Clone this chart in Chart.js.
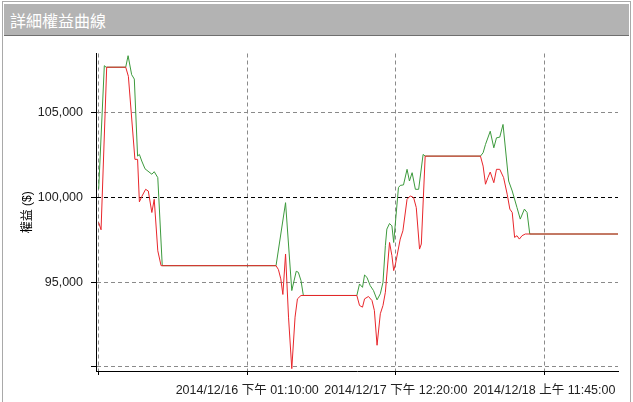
<!DOCTYPE html>
<html>
<head>
<meta charset="utf-8">
<script src="https://cdn.jsdelivr.net/npm/chart.js@4/dist/chart.umd.min.js"></script>
<style>
  html, body { margin: 0; padding: 0; background: #fff; }
  body { width: 633px; height: 402px; position: relative; overflow: hidden; }
  #frame { position: absolute; left: 2px; top: 1px; width: 627px; height: 405px;
           border: 1px solid #a9a9a9; border-bottom: none; }
  #titlebar { position: absolute; left: 4px; top: 4px; width: 625px; height: 32px;
              background: #b3b3b3; border-bottom: 1px solid #6f6f6f; color: #fff;
              font: 16px 'Noto Sans CJK TC', sans-serif; line-height: 32px;
              padding-left: 6px; box-sizing: border-box; }
  #c { position: absolute; left: 0; top: 38px; }
</style>
</head>
<body>
<div id="frame"></div>
<div id="titlebar">詳細權益曲線</div>
<canvas id="c" width="633" height="364"></canvas>
<script>
// ---- data ----
const chartTitle = '詳細權益曲線';
const yAxisTitle = '權益 ($)';
const xTickPositions = [0, 50, 100, 150];
const xTickLabels = ['', '2014/12/16 下午 01:10:00', '2014/12/17 下午 12:20:00', '2014/12/18 上午 11:45:00'];
const yTickValues = [90000, 95000, 100000, 105000];

const greenX = [0, 1.9, 2.5, 9.1, 9.9, 11.1, 12.0, 13.1, 13.7, 14.5,
  15.6, 17.9, 18.7, 19.9, 21.4, 59.7, 62.9, 65.0, 66.5, 67.2,
  68.1, 68.9, 86.9, 87.8, 88.8, 89.5, 90.3, 91.4, 92.5, 93.7,
  94.8, 95.7, 96.5, 97.0, 97.9, 98.7, 99.3, 100.9, 101.5, 102.6,
  103.8, 104.6, 105.5, 106.6, 107.7, 109.2, 109.9, 128.5, 129.4, 130.2,
  131.8, 133.0, 133.9, 135.0, 136.1, 138.0, 139.2, 140.8, 141.9, 143.3,
  144.2, 145.1, 174.8];
const greenY = [100500, 107780, 107690, 107690, 108370, 107250, 106990, 102440, 102540, 102150,
  101690, 101370, 101520, 101170, 95970, 95970, 99690, 94500, 95640, 95580,
  95090, 94210, 94210, 94890, 94690, 95420, 95280, 94790, 94500, 93950,
  94310, 94990, 97150, 98130, 98460, 98320, 97340, 100580, 100710, 100740,
  101660, 100970, 101460, 100480, 100480, 102540, 102440, 102440, 102640, 103130,
  103910, 102930, 103520, 103560, 104310, 100970, 100380, 99400, 98720, 99310,
  99110, 97840, 97840];

const redX = [0, 0.8, 2.7, 9.1, 10.0, 12.2, 13.1, 13.7, 14.5, 15.8,
  16.7, 17.9, 18.7, 19.9, 21.0, 59.7, 60.5, 61.3, 62.0, 62.9,
  63.9, 65.0, 66.1, 66.9, 68.1, 86.9, 87.8, 88.8, 89.5, 90.8,
  92.0, 92.8, 93.7, 94.8, 95.7, 96.5, 97.9, 98.7, 99.3, 99.9,
  101.5, 102.4, 103.8, 104.9, 106.0, 106.9, 108.0, 108.6, 109.9, 128.5,
  129.4, 130.2, 131.0, 131.8, 133.0, 133.9, 135.0, 136.3, 137.5, 138.4,
  139.2, 140.0, 140.8, 141.6, 142.5, 143.6, 174.8];
const redY = [98520, 98090, 107690, 107690, 107150, 102250, 102250, 99740, 100050, 100480,
  100380, 99110, 99890, 96850, 95970, 95970, 95740, 95190, 94270, 96660,
  92930, 89890, 92930, 94010, 94210, 94210, 93620, 93520, 94010, 94150,
  93910, 93320, 91270, 93130, 93620, 94400, 97340, 96560, 95680, 96070,
  97540, 98030, 99890, 100090, 99990, 99400, 96950, 97250, 102440, 102440,
  101850, 100780, 101170, 101500, 100870, 101660, 101660, 101170, 100190, 99310,
  99110, 97640, 97740, 97540, 97740, 97840, 97840];

const toPts = (xs, ys) => xs.map((x, i) => ({ x: x, y: ys[i] }));
const FONT = "'Liberation Sans', 'Noto Sans CJK TC', sans-serif";

new Chart(document.getElementById('c'), {
  type: 'line',
  data: {
    datasets: [
      { label: 'red', data: toPts(redX, redY), borderColor: '#e8262b', borderWidth: 1,
        pointRadius: 0, tension: 0, fill: false },
      { label: 'green', data: toPts(greenX, greenY), borderColor: '#3d9a3d', borderWidth: 1,
        pointRadius: 0, tension: 0, fill: false }
    ]
  },
  options: {
    responsive: false,
    animation: false,
    events: [],
    layout: { padding: { left: 0, right: 15, top: 14, bottom: 0 } },
    plugins: { legend: { display: false }, title: { display: false }, tooltip: { enabled: false } },
    scales: {
      x: {
        type: 'linear',
        min: -0.9,
        max: 174.8,
        afterBuildTicks: (s) => { s.ticks = xTickPositions.map(v => ({ value: v })); },
        afterFit: (s) => { s.height = 31; },
        ticks: {
          autoSkip: false, maxRotation: 0, minRotation: 0, padding: 8,
          color: '#222', font: { family: FONT, size: 12.5 },
          callback: (v) => { const i = xTickPositions.indexOf(v); return i >= 0 ? xTickLabels[i] : ''; }
        },
        grid: { color: '#8a8a8a', tickColor: '#000', tickLength: 4, lineWidth: 1 },
        border: { display: true, color: '#000', width: 1, dash: [4, 3] }
      },
      y: {
        min: 89750,
        max: 108500,
        afterBuildTicks: (s) => { s.ticks = yTickValues.map(v => ({ value: v })); },
        afterFit: (s) => { s.width = 96; },
        ticks: {
          padding: 8, color: '#222', font: { family: FONT, size: 12.5 },
          callback: (v) => v === 90000 ? '' : v.toLocaleString('en-US')
        },
        title: { display: true, text: yAxisTitle, color: '#000', font: { family: FONT, size: 12 },
                 padding: { top: 20, bottom: 0 } },
        grid: { color: (c) => (c.tick && c.tick.value === 100000) ? '#000' : '#8a8a8a',
                tickColor: '#000', tickLength: 5, lineWidth: 1 },
        border: { display: true, color: '#000', width: 1, dash: [4, 3] }
      }
    }
  }
});
</script>
</body>
</html>
